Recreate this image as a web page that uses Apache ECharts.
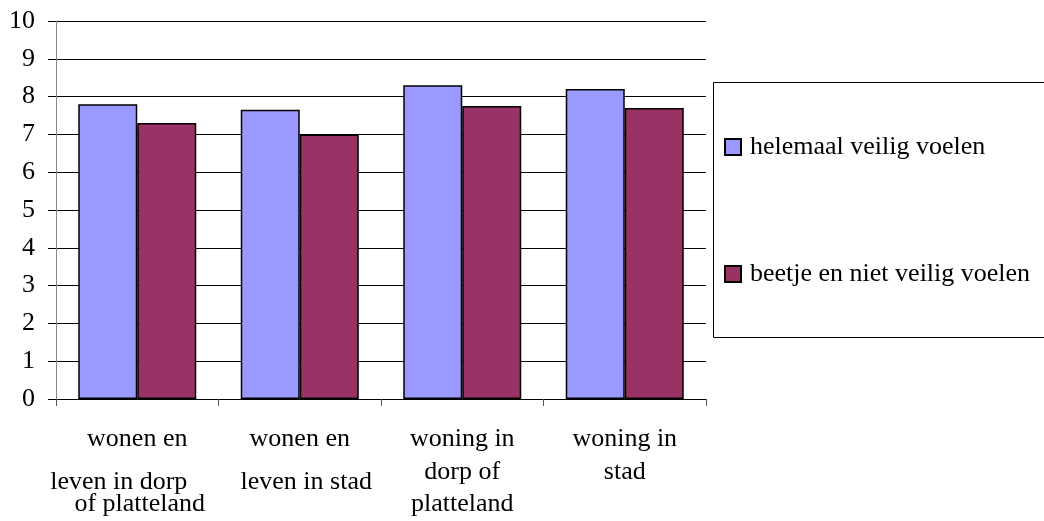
<!DOCTYPE html>
<html>
<head>
<meta charset="utf-8">
<script src="https://cdn.jsdelivr.net/npm/echarts@6/dist/echarts.min.js"></script>
<style>
html,body{margin:0;padding:0;background:#fff;}
#chart{width:1044px;height:521px;}
</style>
</head>
<body>
<div id="chart"></div>
<script>
const categories = ['wonen en leven in dorp of platteland', 'wonen en leven in stad', 'woning in dorp of platteland', 'woning in stad'];
const labelLines = [
  ['wonen en', 'leven in dorp', 'of platteland'],
  ['wonen en', 'leven in stad'],
  ['woning in', 'dorp of', 'platteland'],
  ['woning in', 'stad']
];
const seriesNames = ['helemaal veilig voelen', 'beetje en niet veilig voelen'];
const helemaalVeilig = [7.8, 7.65, 8.3, 8.2];
const nietVeilig = [7.3, 7.0, 7.75, 7.7];

const FONT = '"Liberation Serif", "Times New Roman", serif';
const lineStyles = [
  ['m', 'p0', 'q0'],
  ['m', 'p1'],
  ['m', 'm', 'm'],
  ['m', 'm']
];

const chart = echarts.init(document.getElementById('chart'), null, {renderer: 'canvas'});
chart.setOption({
  backgroundColor: '#ffffff',
  animation: false,
  color: ['#9999FF', '#993366'],
  grid: {left: 56, right: 338, top: 21, bottom: 122, containLabel: false},
  legend: {
    orient: 'vertical',
    left: 724,
    top: 132,
    padding: 0,
    itemGap: 97,
    itemWidth: 16,
    itemHeight: 16,
    icon: 'rect',
    textStyle: {fontFamily: FONT, fontSize: 26, color: '#000', lineHeight: 30, padding: [0, 0, 0, 4]},
    data: seriesNames
  },
  graphic: [{
    type: 'rect', z: -1,
    shape: {x: 713.5, y: 82.5, width: 400, height: 255},
    style: {fill: 'none', stroke: '#000', lineWidth: 1}
  }],
  xAxis: {
    type: 'category',
    data: categories,
    boundaryGap: true,
    axisLine: {show: true, lineStyle: {color: '#000', width: 1}},
    axisTick: {show: true, length: 7, alignWithLabel: false, lineStyle: {color: '#555'}},
    axisLabel: {
      interval: 0,
      margin: 24,
      color: '#000',
      fontFamily: FONT,
      fontSize: 26,
      align: 'center',
      verticalAlign: 'top',
      formatter: function (value, index) {
        const lines = labelLines[index];
        const st = lineStyles[index];
        return lines.map(function (l, i) { return '{' + st[i] + '|' + l + '}'; }).join('\n');
      },
      rich: {
        m: {fontFamily: FONT, fontSize: 26, color: '#000', height: 32.5},
        p0: {fontFamily: FONT, fontSize: 26, color: '#000', height: 22, padding: [16, 37, 0, 0]},
        q0: {fontFamily: FONT, fontSize: 26, color: '#000', height: 22, padding: [0, 0, 0, 5]},
        p1: {fontFamily: FONT, fontSize: 26, color: '#000', height: 22, padding: [16, 0, 0, 13]}
      }
    },
    splitLine: {show: false}
  },
  yAxis: {
    type: 'value',
    min: 0,
    max: 10,
    interval: 1,
    axisLine: {show: true, lineStyle: {color: '#888', width: 1}},
    axisTick: {show: true, length: 8, lineStyle: {color: '#000'}},
    axisLabel: {margin: 21, color: '#000', fontFamily: FONT, fontSize: 26},
    splitLine: {show: true, lineStyle: {color: '#000', width: 1}}
  },
  series: [
    {
      name: seriesNames[0], type: 'bar', data: helemaalVeilig,
      barWidth: 59, barGap: '0%',
      itemStyle: {color: '#9999FF', borderColor: '#000', borderWidth: 1.5}
    },
    {
      name: seriesNames[1], type: 'bar', data: nietVeilig,
      barWidth: 59, barGap: '0%',
      itemStyle: {color: '#993366', borderColor: '#000', borderWidth: 1.5}
    }
  ]
});
</script>
</body>
</html>
